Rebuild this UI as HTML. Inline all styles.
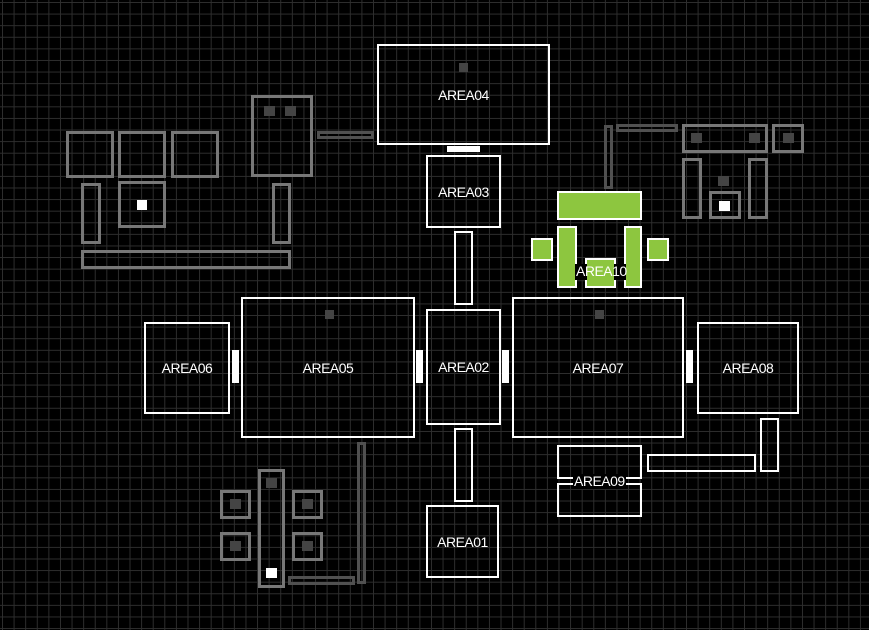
<!DOCTYPE html><html><head><style>
body{margin:0;width:869px;height:630px;overflow:hidden;background:#000;
background-image:linear-gradient(#2e2e2e 1px,transparent 1px),linear-gradient(90deg,#2e2e2e 1px,transparent 1px);background-size:11.6px 11.6px;background-position:2px 2px;font-family:"Liberation Sans",sans-serif;}
div{position:absolute;box-sizing:border-box}
.w{border:2px solid #fff}
.f{background:#fff}
.g{border:3px solid #777}
.d{border:3px solid #505050}
.ds{background:#444}
.gr{border:2px solid #fff;background:#8dc63f}
.l{color:#fff;font-size:14px;display:flex;align-items:center;justify-content:center;letter-spacing:-0.5px}
.lb{background:#000;color:#fff;font-size:14px;padding:0 1px;line-height:15px;letter-spacing:-0.5px}
</style></head><body>
<div class="w l" style="left:377px;top:44px;width:173px;height:101px">AREA04</div>
<div class="ds" style="left:459px;top:63px;width:9px;height:9px"></div>
<div class="f" style="left:447px;top:146px;width:33px;height:6px"></div>
<div class="w l" style="left:426px;top:155px;width:75px;height:73px">AREA03</div>
<div class="w" style="left:454px;top:231px;width:19px;height:74px"></div>
<div class="w l" style="left:426px;top:309px;width:75px;height:116px">AREA02</div>
<div class="w" style="left:454px;top:428px;width:19px;height:74px"></div>
<div class="w l" style="left:426px;top:505px;width:73px;height:73px">AREA01</div>
<div class="w l" style="left:241px;top:297px;width:174px;height:141px">AREA05</div>
<div class="ds" style="left:325px;top:310px;width:9px;height:9px"></div>
<div class="w l" style="left:144px;top:322px;width:86px;height:92px">AREA06</div>
<div class="f" style="left:232px;top:350px;width:7px;height:33px"></div>
<div class="f" style="left:416px;top:350px;width:7px;height:33px"></div>
<div class="f" style="left:502px;top:350px;width:7px;height:33px"></div>
<div class="f" style="left:686px;top:350px;width:7px;height:33px"></div>
<div class="w l" style="left:512px;top:297px;width:172px;height:141px">AREA07</div>
<div class="ds" style="left:595px;top:310px;width:9px;height:9px"></div>
<div class="w l" style="left:697px;top:322px;width:102px;height:92px">AREA08</div>
<div class="w" style="left:760px;top:418px;width:19px;height:54px"></div>
<div class="w" style="left:647px;top:454px;width:109px;height:18px"></div>
<div class="w" style="left:557px;top:445px;width:85px;height:34px"></div>
<div class="w" style="left:557px;top:483px;width:85px;height:34px"></div>
<div class="lb" style="left:573px;top:474px">AREA09</div>
<div class="gr" style="left:557px;top:191px;width:85px;height:29px"></div>
<div class="gr" style="left:557px;top:226px;width:20px;height:62px"></div>
<div class="gr" style="left:624px;top:226px;width:18px;height:62px"></div>
<div class="gr" style="left:531px;top:238px;width:22px;height:23px"></div>
<div class="gr" style="left:647px;top:238px;width:22px;height:23px"></div>
<div class="gr" style="left:585px;top:258px;width:31px;height:30px"></div>
<div style="left:575px;top:264px;width:51px;height:16px;background:#000"></div>
<div class="gr" style="left:587px;top:264px;width:27px;height:16px;border:none"></div>
<div style="left:576px;top:264px;color:#fff;font-size:14px;line-height:15px;letter-spacing:-0.5px">AREA10</div>
<!-- left top gray -->
<div class="g" style="left:66px;top:131px;width:48px;height:47px"></div>
<div class="g" style="left:118px;top:131px;width:48px;height:47px"></div>
<div class="g" style="left:171px;top:131px;width:48px;height:47px"></div>
<div class="g" style="left:251px;top:95px;width:62px;height:82px"></div>
<div class="ds" style="left:264px;top:106px;width:11px;height:10px"></div>
<div class="ds" style="left:285px;top:106px;width:11px;height:10px"></div>
<div class="d" style="left:317px;top:131px;width:57px;height:8px"></div>
<div class="g" style="left:81px;top:183px;width:20px;height:61px"></div>
<div class="g" style="left:118px;top:181px;width:48px;height:47px"></div>
<div class="f" style="left:137px;top:200px;width:10px;height:10px"></div>
<div class="g" style="left:272px;top:183px;width:19px;height:61px"></div>
<div class="g" style="left:81px;top:250px;width:210px;height:19px"></div>
<!-- right top gray -->
<div class="d" style="left:604px;top:125px;width:9px;height:64px"></div>
<div class="d" style="left:616px;top:124px;width:62px;height:8px"></div>
<div class="g" style="left:682px;top:124px;width:86px;height:29px"></div>
<div class="ds" style="left:691px;top:133px;width:11px;height:10px"></div>
<div class="ds" style="left:749px;top:133px;width:11px;height:10px"></div>
<div class="g" style="left:772px;top:124px;width:32px;height:29px"></div>
<div class="ds" style="left:783px;top:133px;width:11px;height:10px"></div>
<div class="g" style="left:682px;top:158px;width:20px;height:61px"></div>
<div class="g" style="left:748px;top:158px;width:20px;height:61px"></div>
<div class="ds" style="left:718px;top:176px;width:11px;height:10px"></div>
<div class="g" style="left:709px;top:191px;width:32px;height:28px"></div>
<div class="f" style="left:719px;top:201px;width:11px;height:10px"></div>
<!-- bottom left gray -->
<div class="g" style="left:258px;top:469px;width:27px;height:119px"></div>
<div class="ds" style="left:266px;top:478px;width:11px;height:10px"></div>
<div class="f" style="left:266px;top:568px;width:11px;height:10px"></div>
<div class="g" style="left:220px;top:490px;width:31px;height:29px"></div>
<div class="ds" style="left:230px;top:499px;width:11px;height:10px"></div>
<div class="g" style="left:292px;top:490px;width:31px;height:29px"></div>
<div class="ds" style="left:302px;top:499px;width:11px;height:10px"></div>
<div class="g" style="left:220px;top:532px;width:31px;height:29px"></div>
<div class="ds" style="left:230px;top:541px;width:11px;height:10px"></div>
<div class="g" style="left:292px;top:532px;width:31px;height:29px"></div>
<div class="ds" style="left:302px;top:541px;width:11px;height:10px"></div>
<div class="d" style="left:357px;top:442px;width:9px;height:142px"></div>
<div class="d" style="left:288px;top:576px;width:67px;height:9px"></div>
</body></html>
